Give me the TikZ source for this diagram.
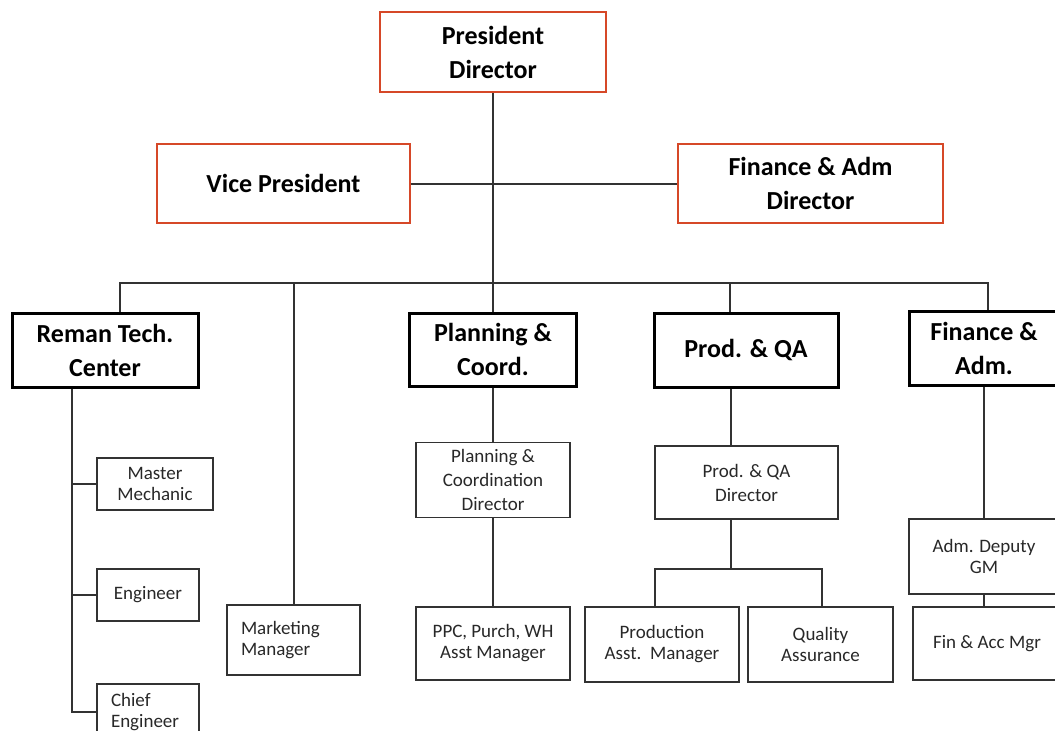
\documentclass[tikz,border=0pt]{standalone}
\usepackage{fontspec}
\setmainfont{Carlito}
\usepackage{xcolor}
\usetikzlibrary{positioning, calc}

\definecolor{topred}{RGB}{214,72,40}
\definecolor{linegray}{RGB}{50,50,50}
\definecolor{textgray}{RGB}{40,40,40}

\begin{document}
\begin{tikzpicture}[
    x=1pt, y=-1pt,
    topbox/.style={rectangle, draw=topred, line width=2.5pt, inner sep=0pt, align=center, font=\fontsize{26}{34}\selectfont\bfseries},
    headbox/.style={rectangle, draw=black, line width=3pt, inner sep=0pt, align=center, font=\fontsize{26}{34}\selectfont\bfseries},
    subbox/.style={rectangle, draw=linegray, line width=1.6pt, inner sep=0pt, align=center, text=textgray, font=\fontsize{19}{21}\selectfont},
    leftbox/.style={subbox, align=left, inner xsep=14pt},
    line/.style={draw=linegray, line width=2pt}
]
\useasboundingbox (0,0) rectangle (1055,731);
\clip (0,0) rectangle (1055,731);

% Board
\node[topbox, minimum width=226pt, minimum height=80pt] (pres) at (493,52) {President\\Director};
\node[topbox, minimum width=253pt, minimum height=79pt] (vp) at (283.5,183.5) {Vice President};
\node[topbox, minimum width=265pt, minimum height=79pt] (finadm) at (810.5,183.5) {Finance \& Adm\\Director};

% Departments
\node[headbox, minimum width=186pt, minimum height=74pt] (reman) at (105,350) {Reman Tech.\\Center};
\node[headbox, minimum width=167pt, minimum height=73pt] (plan) at (493,349.5) {Planning \&\\Coord.};
\node[headbox, minimum width=184pt, minimum height=74pt] (prod) at (746,350) {Prod. \& QA};
\node[headbox, minimum width=150pt, minimum height=74pt] (fin) at (984,348) {Finance \&\\Adm.};

% Reman staff
\node[subbox, minimum width=116pt, minimum height=52pt] (master) at (155,484) {Master\\Mechanic};
\node[subbox, minimum width=102pt, minimum height=52pt] (eng) at (148,595) {Engineer};
\node[leftbox, minimum width=102pt, minimum height=56pt, text width=74pt] (chief) at (148,712) {Chief\\Engineer};
\node[leftbox, minimum width=133pt, minimum height=70pt, text width=105pt] (mkt) at (293.5,640) {Marketing\\Manager};

% Planning staff
\node[subbox, minimum width=154pt, minimum height=75pt, font=\fontsize{19}{24}\selectfont] (plandir) at (493,480) {Planning \&\\Coordination\\Director};
\node[subbox, minimum width=154pt, minimum height=73pt] (ppc) at (493,643.5) {PPC, Purch, WH\\Asst Manager};

% Prod. & QA staff
\node[subbox, minimum width=183pt, minimum height=73pt, font=\fontsize{19}{24}\selectfont] (proddir) at (746.5,482.5) {Prod. \& QA\\Director};
\node[subbox, minimum width=154pt, minimum height=75pt] (prodmgr) at (662,644.5) {Production\\Asst.~~Manager};
\node[subbox, minimum width=145pt, minimum height=75pt] (qa) at (820.5,644.5) {Quality\\Assurance};

% Finance staff
\node[subbox, minimum width=150pt, minimum height=75pt] (admgm) at (984,556.5) {Adm. Deputy\\GM};
\node[subbox, minimum width=148pt, minimum height=73pt] (finacc) at (987,643.5) {Fin \& Acc Mgr};

% Lines
\coordinate (busL) at (120,283);
\coordinate (busM) at (293.5,283);
\coordinate (busP) at (730,283);
\coordinate (busR) at (988,283);
\draw[line] (busL |- reman.north) -- (busL) -- (busR) -- (busR |- fin.north);
\draw[line] (pres) -- (plan);
\draw[line] (vp) -- (finadm);
\draw[line] (busM) -- (mkt);
\draw[line] (busP) -- (busP |- prod.north);

\coordinate (spine) at (72,712);
\draw[line] (spine |- reman.south) -- (spine) -- (chief.west);
\draw[line] (spine |- master) -- (master.west);
\draw[line] (spine |- eng) -- (eng.west);

\draw[line] (plan) -- (plandir);
\draw[line] (plandir) -- (ppc);

\coordinate (split) at (731,569);
\coordinate (splitL) at (655,569);
\coordinate (splitR) at (822,569);
\draw[line] (split |- prod.south) -- (split |- proddir.north);
\draw[line] (split |- proddir.south) -- (split);
\draw[line] (splitL |- prodmgr.north) -- (splitL) -- (splitR) -- (splitR |- qa.north);

\draw[line] (fin) -- (admgm);
\draw[line] (admgm.south) -- (admgm.south |- finacc.north);

\end{tikzpicture}
\end{document}
